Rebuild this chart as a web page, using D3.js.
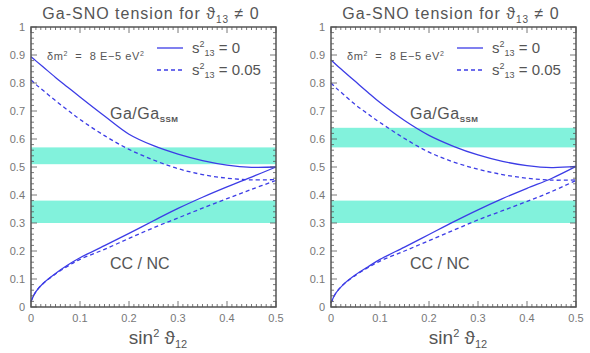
<!DOCTYPE html>
<html>
<head>
<meta charset="utf-8">
<script src="https://cdn.jsdelivr.net/npm/d3@7"></script>
<style>
  html, body { margin: 0; padding: 0; background: #fff; }
  svg text { font-family: "Liberation Sans", Arial, sans-serif; fill: #555; }
</style>
</head>
<body>
<svg id="chart" width="590" height="353"></svg>
<script>
// ---- Data ----
const sin2T12 = [0, 0.01, 0.025, 0.05, 0.075, 0.1, 0.15, 0.2, 0.25, 0.3, 0.35, 0.4, 0.45, 0.5];

// left panel
const gaLeftS13_0    = [0.894, 0.879, 0.857, 0.82, 0.785, 0.75, 0.682, 0.617, 0.576, 0.546, 0.523, 0.507, 0.499, 0.50];
const gaLeftS13_005  = [0.811, 0.795, 0.773, 0.737, 0.703, 0.67, 0.612, 0.563, 0.525, 0.494, 0.473, 0.46, 0.454, 0.455];
const ccLeftS13_0    = [0.02, 0.055, 0.085, 0.12, 0.15, 0.176, 0.219, 0.263, 0.308, 0.352, 0.392, 0.429, 0.464, 0.50];
const ccLeftS13_005  = [0.02, 0.055, 0.084, 0.118, 0.146, 0.17, 0.206, 0.245, 0.283, 0.318, 0.353, 0.387, 0.42, 0.452];

// right panel
const gaRightS13_0   = [0.882, 0.866, 0.843, 0.805, 0.767, 0.73, 0.666, 0.613, 0.574, 0.543, 0.52, 0.505, 0.498, 0.502];
const gaRightS13_005 = [0.80, 0.783, 0.76, 0.722, 0.69, 0.659, 0.602, 0.553, 0.518, 0.492, 0.473, 0.46, 0.453, 0.454];
const ccRightS13_0   = [0.015, 0.05, 0.08, 0.115, 0.143, 0.17, 0.214, 0.259, 0.304, 0.347, 0.387, 0.424, 0.459, 0.502];
const ccRightS13_005 = [0.015, 0.05, 0.08, 0.113, 0.14, 0.164, 0.2, 0.237, 0.274, 0.311, 0.344, 0.377, 0.412, 0.452];

// measured bands [low, high]
const gaBandLeft  = [0.51, 0.57];
const gaBandRight = [0.57, 0.64];
const ccBand      = [0.30, 0.38];

const xTicks = [0, 0.1, 0.2, 0.3, 0.4, 0.5];
const yTicks = [0, 0.1, 0.2, 0.3, 0.4, 0.5, 0.6, 0.7, 0.8, 0.9, 1];

const LINE = "#3c3ce6";
const BAND = "#82f2dc";
const FRAME = "#555";

const svg = d3.select("#chart");

function drawPanel(left, cfg) {
  const top = 27, bottom = 307, w = 245;
  const x = d3.scaleLinear().domain([0, 0.5]).range([left, left + w]);
  const y = d3.scaleLinear().domain([0, 1]).range([bottom, top]);
  const g = svg.append("g");

  // ---- Bands ----
  [cfg.gaBand, ccBand].forEach(b => {
    g.append("rect")
      .attr("x", x(0)).attr("width", x(0.5) - x(0))
      .attr("y", y(b[1])).attr("height", y(b[0]) - y(b[1]))
      .attr("fill", BAND);
  });

  // ---- Curves ----
  const line = d3.line()
    .x((d, i) => x(sin2T12[i]))
    .y(d => y(d))
    .curve(d3.curveCatmullRom.alpha(0.5));

  [[cfg.ga0, null], [cfg.ga5, "4,3"], [cfg.cc0, null], [cfg.cc5, "4,3"]].forEach(([vals, dash]) => {
    g.append("path")
      .attr("d", line(vals))
      .attr("fill", "none")
      .attr("stroke", LINE)
      .attr("stroke-width", 1.3)
      .attr("stroke-dasharray", dash);
  });

  // ---- Frame + ticks (inward, mirrored) ----
  g.append("rect")
    .attr("x", x(0)).attr("y", y(1))
    .attr("width", x(0.5) - x(0)).attr("height", y(0) - y(1))
    .attr("fill", "none").attr("stroke", FRAME).attr("stroke-width", 1.5);

  const xMinor = d3.range(0, 0.5001, 0.01);
  const yMinor = d3.range(0, 1.0001, 0.02);
  const tk = g.append("g").attr("stroke", FRAME).attr("stroke-width", 0.8);
  xMinor.forEach((v, i) => {
    const len = i % 10 === 0 ? 6 : 3;
    tk.append("line").attr("x1", x(v)).attr("x2", x(v)).attr("y1", y(0)).attr("y2", y(0) - len);
    tk.append("line").attr("x1", x(v)).attr("x2", x(v)).attr("y1", y(1)).attr("y2", y(1) + len);
  });
  yMinor.forEach((v, i) => {
    const len = i % 5 === 0 ? 6 : 3;
    tk.append("line").attr("y1", y(v)).attr("y2", y(v)).attr("x1", x(0)).attr("x2", x(0) + len);
    tk.append("line").attr("y1", y(v)).attr("y2", y(v)).attr("x1", x(0.5)).attr("x2", x(0.5) - len);
  });

  // ---- Tick labels ----
  g.selectAll(".xl").data(xTicks).join("text")
    .attr("x", d => x(d)).attr("y", y(0) + 15)
    .attr("text-anchor", "middle").style("font-size", "11px").style("fill", "#777")
    .text(d => d);
  g.selectAll(".yl").data(yTicks).join("text")
    .attr("x", x(0) - 6).attr("y", d => y(d) + 4)
    .attr("text-anchor", "end").style("font-size", "11px").style("fill", "#777")
    .text(d => d);

  // ---- Title ----
  const title = g.append("text")
    .attr("x", left + 120).attr("y", 19)
    .attr("text-anchor", "middle")
    .style("font-size", "16px").style("letter-spacing", "1px");
  title.append("tspan").text("Ga-SNO tension for ϑ");
  title.append("tspan").attr("dy", 4).style("font-size", "10px").text("13");
  title.append("tspan").attr("dy", -4).text(" ≠ 0");

  // ---- Axis label ----
  const xl = g.append("text")
    .attr("x", left + 127).attr("y", 344)
    .attr("text-anchor", "middle").style("font-size", "19px");
  xl.append("tspan").text("sin");
  xl.append("tspan").attr("dy", -7).style("font-size", "11px").text("2");
  xl.append("tspan").attr("dy", 7).text(" ϑ");
  xl.append("tspan").attr("dy", 4).style("font-size", "11px").text("12");

  // ---- Annotations ----
  const dm = g.append("text").attr("x", left + 16).attr("y", 60)
    .style("font-size", "11px").style("letter-spacing", "0.6px").attr("xml:space", "preserve");
  dm.append("tspan").text("δm");
  dm.append("tspan").attr("dy", -4).style("font-size", "7px").text("2");
  dm.append("tspan").attr("dy", 4).text("  =  8 E−5 eV");
  dm.append("tspan").attr("dy", -4).style("font-size", "7px").text("2");

  const gl = g.append("text").attr("x", left + 79).attr("y", 119)
    .style("font-size", "16px").style("letter-spacing", "0.5px");
  gl.append("tspan").text("Ga/Ga");
  gl.append("tspan").attr("dy", 3).style("font-size", "8px").style("font-weight", "bold").text("SSM");

  g.append("text").attr("x", left + 79).attr("y", 269).style("font-size", "16px").text("CC / NC");

  // ---- Legend ----
  [["0", null, 48], ["0.05", "4,3", 70]].forEach(([lab, dash, ly]) => {
    g.append("line")
      .attr("x1", left + 126).attr("x2", left + 152).attr("y1", ly).attr("y2", ly)
      .attr("stroke", LINE).attr("stroke-width", 1.3).attr("stroke-dasharray", dash);
    const t = g.append("text").attr("x", left + 161).attr("y", ly + 5).style("font-size", "15px");
    t.append("tspan").text("s");
    t.append("tspan").attr("dy", -6).style("font-size", "9px").text("2");
    t.append("tspan").attr("dy", 9).style("font-size", "9px").text("13");
    t.append("tspan").attr("dy", -3).text(" = " + lab);
  });
}

drawPanel(31, { gaBand: gaBandLeft, ga0: gaLeftS13_0, ga5: gaLeftS13_005, cc0: ccLeftS13_0, cc5: ccLeftS13_005 });
drawPanel(331, { gaBand: gaBandRight, ga0: gaRightS13_0, ga5: gaRightS13_005, cc0: ccRightS13_0, cc5: ccRightS13_005 });
</script>
</body>
</html>
